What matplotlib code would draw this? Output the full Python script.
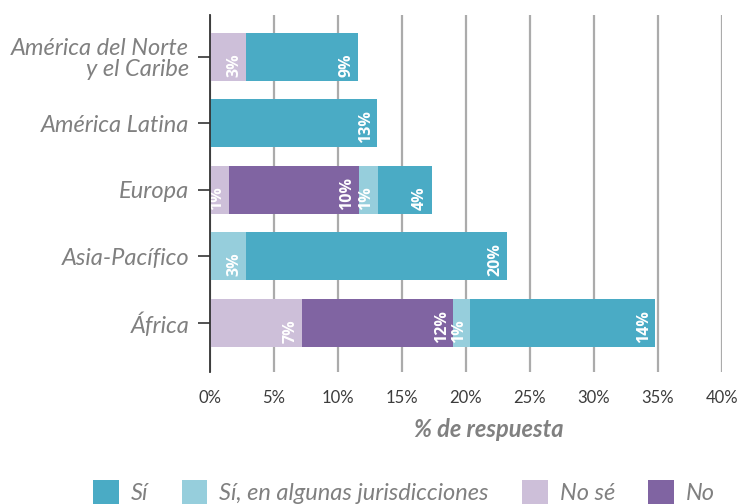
import matplotlib
matplotlib.use("Agg")
import matplotlib.pyplot as plt
import numpy as np

regions = ["América del Norte\ny el Caribe", "América Latina", "Europa", "Asia-Pacífico", "África"]
series_names = ["No sé", "No", "Sí, en algunas jurisdicciones", "Sí"]
no_se = [2.8, 0.0, 1.48, 0.0, 7.19]
no = [0.0, 0.0, 10.16, 0.0, 11.8]
si_alg = [0.0, 0.0, 1.48, 2.8, 1.33]
si = [8.75, 13.05, 4.2, 20.4, 14.45]
xticks = [0, 5, 10, 15, 20, 25, 30, 35, 40]

colors = {"Sí": "#4aabc5", "Sí, en algunas jurisdicciones": "#96cedc",
          "No sé": "#cdbfd9", "No": "#8064a2"}

fig = plt.figure(figsize=(7.4, 5.04), dpi=100)
ax = fig.add_axes([210/740, 1-372/504, 512/740, 357/504])

y = np.arange(len(regions))
left = np.zeros(len(regions))
handles = {}
for name, vals in zip(series_names, [no_se, no, si_alg, si]):
    vals = np.array(vals)
    bars = ax.barh(y, vals, left=left, height=0.72, color=colors[name], zorder=2)
    handles[name] = bars
    for yi, (l, v) in enumerate(zip(left, vals)):
        if v > 0:
            ax.annotate(f"{round(v)}%", xy=(l + v, yi + 0.36), xytext=(-2.5, 3),
                        textcoords="offset points", rotation=90, ha="right", va="bottom",
                        color="white", fontsize=11.5, fontweight="bold", family="Open Sans",
                        zorder=3)
    left = left + vals

ax.set_xlim(0, 40)
ax.set_ylim(4.74, -0.63)
ax.set_xticks(xticks)
ax.set_xticklabels([f"{t}%" for t in xticks], fontsize=12, color="#3c3c3c",
                   family="Lato")
ax.set_yticks(y)
ax.set_yticklabels(regions, fontsize=17, color="#808080", family="Lato",
                   fontstyle="italic", linespacing=1.0)
ax.tick_params(axis="x", length=0, pad=13)
ax.tick_params(axis="y", length=9, width=1.3, color="#444444", pad=6)
ax.grid(axis="x", color="#ababab", linewidth=1.6, zorder=0)
for s in ["top", "right", "bottom"]:
    ax.spines[s].set_visible(False)
ax.spines["left"].set_color("#333333")
ax.spines["left"].set_linewidth(1.3)
ax.spines["left"].set_zorder(4)

fig.text(489/740, 1-437/504, "% de respuesta", ha="center", va="baseline",
         fontsize=17, fontweight="bold", fontstyle="italic", color="#808080", family="Lato")

order = ["Sí", "Sí, en algunas jurisdicciones", "No sé", "No"]
leg = fig.legend([handles[n] for n in order], order, loc="center",
                 bbox_to_anchor=(404/740, 1-492/504), ncol=4, frameon=False,
                 handlelength=1.1, handleheight=1.2, columnspacing=1.4, handletextpad=0.5,
                 borderpad=0, prop={"family": "Lato", "style": "italic", "size": 17})
for t in leg.get_texts():
    t.set_color("#808080")

fig.savefig("out.png", dpi=100)
